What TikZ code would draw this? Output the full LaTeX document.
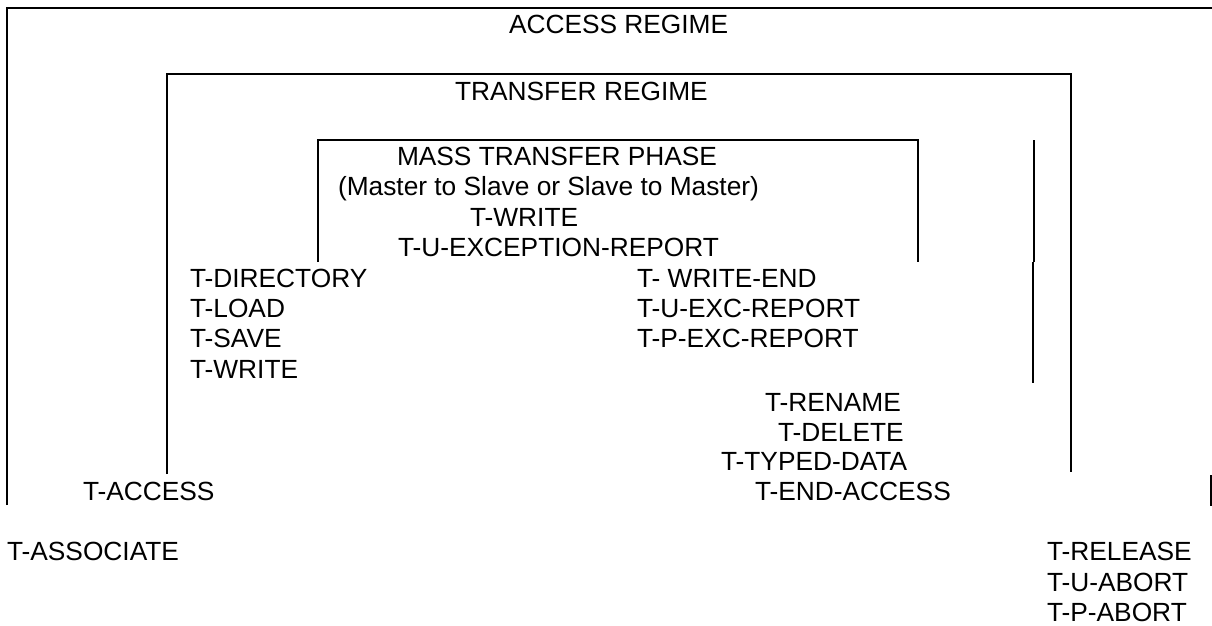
\documentclass[tikz,border=0pt]{standalone}
\usepackage{fontspec}
\setmainfont{Liberation Sans}
\begin{document}
\begin{tikzpicture}[x=1pt,y=-1pt,
  lbl/.style={anchor=base west, inner sep=0pt, outer sep=0pt,
    font=\fontsize{26.3}{30.3}\selectfont},
  frame/.style={line width=2pt}]
\useasboundingbox (0,0) rectangle (1212,625);

% regime and phase brackets
\draw[frame] (7,505) -- (7,8) -- (1213,8);
\draw[frame] (1211,475) -- (1211,506);
\draw[frame] (167,474) -- (167,74) -- (1071,74) -- (1071,472);
\draw[frame] (318,262) -- (318,140) -- (918,140) -- (918,262);
\draw[frame] (1034,140) -- (1034,262);
\draw[frame] (1033,262) -- (1033,383);

% headings
\node[lbl] (access) at (509,33) {ACCESS REGIME};
\node[lbl] (transfer) at (455,100) {TRANSFER REGIME};
\node[lbl] (mass) at (397,165) {MASS TRANSFER PHASE};
\node[lbl] (dir) at (338,195) {(Master to Slave or Slave to Master)};
\node[lbl] (mwrite) at (470,226) {T-WRITE};
\node[lbl] (uexc) at (398,256) {T-U-EXCEPTION-REPORT};

% transfer regime services
\node[lbl] (tdir) at (190,287) {T-DIRECTORY};
\node[lbl] (tload) at (190,317) {T-LOAD};
\node[lbl] (tsave) at (190,347) {T-SAVE};
\node[lbl] (twrite) at (190,378) {T-WRITE};
\node[lbl] (wend) at (637,287) {T- WRITE-END};
\node[lbl] (uexcr) at (637,317) {T-U-EXC-REPORT};
\node[lbl] (pexcr) at (637,347) {T-P-EXC-REPORT};

% access regime services
\node[lbl] (rename) at (765,411) {T-RENAME};
\node[lbl] (delete) at (778,441) {T-DELETE};
\node[lbl] (typed) at (721,470) {T-TYPED-DATA};
\node[lbl] (endacc) at (755,500) {T-END-ACCESS};
\node[lbl] (tacc) at (83,500) {T-ACCESS};

% association services
\node[lbl] (assoc) at (7,560) {T-ASSOCIATE};
\node[lbl] (release) at (1047,560) {T-RELEASE};
\node[lbl] (uabort) at (1047,591) {T-U-ABORT};
\node[lbl] (pabort) at (1047,621) {T-P-ABORT};
\end{tikzpicture}
\end{document}
